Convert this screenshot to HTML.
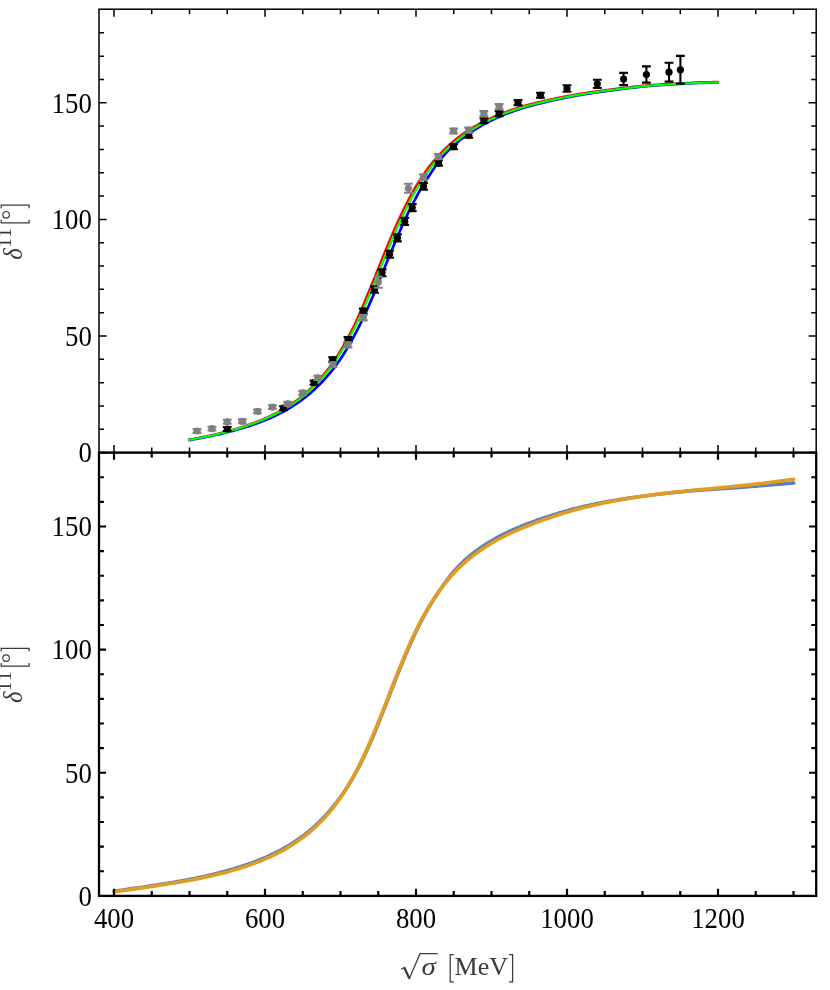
<!DOCTYPE html>
<html><head><meta charset="utf-8"><title>plot</title>
<style>html,body{margin:0;padding:0;background:#fff;}svg{display:block;}</style>
</head><body>
<svg width="830" height="990" viewBox="0 0 830 990">
<rect width="830" height="990" fill="#fff"/>
<!--TOPCURVES-->
<g fill="none" stroke-width="2.25" stroke-linejoin="round" stroke-linecap="butt">
<path stroke="#ff0000" d="M188.17 439.74 L190.05 439.42 L191.94 439.09 L193.83 438.76 L195.71 438.42 L197.60 438.07 L199.49 437.71 L201.37 437.34 L203.26 436.96 L205.14 436.58 L207.03 436.19 L208.91 435.78 L210.80 435.37 L212.68 434.95 L214.57 434.52 L216.45 434.07 L218.34 433.62 L220.22 433.16 L222.11 432.68 L223.99 432.20 L225.88 431.70 L227.76 431.19 L229.65 430.68 L231.53 430.15 L233.41 429.61 L235.30 429.05 L237.18 428.49 L239.06 427.90 L240.95 427.31 L242.83 426.70 L244.71 426.08 L246.60 425.44 L248.48 424.79 L250.36 424.12 L252.24 423.43 L254.13 422.73 L256.01 422.01 L257.89 421.28 L259.77 420.52 L261.65 419.74 L263.53 418.95 L265.40 418.13 L267.28 417.28 L269.16 416.41 L271.04 415.52 L272.91 414.61 L274.79 413.66 L276.66 412.69 L278.54 411.69 L280.41 410.66 L282.28 409.60 L284.16 408.50 L286.03 407.37 L287.90 406.21 L289.77 405.01 L291.64 403.77 L293.51 402.50 L295.38 401.18 L297.25 399.81 L299.12 398.41 L300.98 396.95 L302.85 395.45 L304.71 393.89 L306.57 392.28 L308.44 390.62 L310.30 388.89 L312.16 387.11 L314.01 385.26 L315.87 383.35 L317.73 381.37 L319.59 379.33 L321.44 377.21 L323.30 375.01 L325.15 372.74 L327.01 370.38 L328.86 367.95 L330.72 365.42 L332.58 362.81 L334.43 360.10 L336.29 357.29 L338.15 354.39 L340.01 351.39 L341.87 348.29 L343.74 345.09 L345.60 341.79 L347.47 338.39 L349.33 334.89 L351.19 331.28 L353.05 327.57 L354.90 323.75 L356.73 319.81 L358.55 315.77 L360.35 311.63 L362.16 307.39 L363.97 303.08 L365.80 298.69 L367.65 294.24 L369.52 289.74 L371.40 285.18 L373.27 280.58 L375.15 275.94 L377.03 271.28 L378.91 266.60 L380.79 261.93 L382.67 257.27 L384.55 252.63 L386.44 248.02 L388.33 243.46 L390.21 238.95 L392.10 234.50 L393.99 230.12 L395.89 225.82 L397.78 221.60 L399.68 217.48 L401.57 213.45 L403.47 209.52 L405.37 205.69 L407.27 201.96 L409.17 198.34 L411.07 194.82 L412.97 191.41 L414.88 188.10 L416.79 184.90 L418.69 181.80 L420.60 178.80 L422.51 175.91 L424.42 173.10 L426.33 170.40 L428.24 167.78 L430.16 165.26 L432.09 162.83 L434.04 160.50 L435.98 158.25 L437.93 156.08 L439.87 153.99 L441.81 151.97 L443.75 150.03 L445.67 148.15 L447.59 146.34 L449.51 144.60 L451.43 142.92 L453.35 141.30 L455.27 139.74 L457.18 138.23 L459.10 136.77 L461.01 135.35 L462.92 133.98 L464.83 132.65 L466.74 131.36 L468.66 130.11 L470.57 128.88 L472.48 127.70 L474.39 126.55 L476.31 125.44 L478.22 124.36 L480.14 123.32 L482.05 122.30 L483.96 121.32 L485.87 120.37 L487.79 119.44 L489.70 118.54 L491.61 117.67 L493.52 116.82 L495.43 116.00 L497.34 115.20 L499.25 114.42 L501.15 113.66 L503.06 112.92 L504.96 112.20 L506.87 111.50 L508.77 110.82 L510.67 110.15 L512.57 109.50 L514.47 108.86 L516.37 108.25 L518.27 107.64 L520.17 107.05 L522.07 106.48 L523.97 105.92 L525.86 105.38 L527.76 104.85 L529.65 104.34 L531.55 103.85 L533.44 103.36 L535.34 102.88 L537.23 102.42 L539.13 101.97 L541.02 101.52 L542.91 101.08 L544.80 100.65 L546.69 100.23 L548.58 99.81 L550.48 99.39 L552.37 98.98 L554.26 98.58 L556.15 98.18 L558.04 97.80 L559.94 97.41 L561.83 97.04 L563.72 96.67 L565.61 96.31 L567.51 95.96 L569.40 95.61 L571.29 95.27 L573.18 94.93 L575.07 94.61 L576.96 94.28 L578.85 93.97 L580.74 93.66 L582.64 93.35 L584.53 93.05 L586.42 92.75 L588.31 92.46 L590.20 92.17 L592.09 91.89 L593.98 91.62 L595.87 91.34 L597.76 91.08 L599.65 90.81 L601.54 90.55 L603.43 90.30 L605.32 90.05 L607.21 89.80 L609.10 89.56 L610.99 89.32 L612.88 89.08 L614.77 88.85 L616.66 88.62 L618.55 88.40 L620.44 88.17 L622.33 87.96 L624.22 87.74 L626.11 87.53 L627.99 87.32 L629.88 87.10 L631.77 86.89 L633.66 86.68 L635.55 86.48 L637.44 86.27 L639.33 86.08 L641.22 85.88 L643.11 85.70 L645.00 85.53 L646.89 85.36 L648.79 85.21 L650.68 85.07 L652.57 84.93 L654.45 84.79 L656.34 84.66 L658.23 84.54 L660.12 84.41 L662.01 84.29 L663.90 84.17 L665.79 84.05 L667.68 83.94 L669.57 83.83 L671.45 83.72 L673.34 83.61 L675.23 83.51 L677.12 83.41 L679.01 83.31 L680.90 83.21 L682.79 83.12 L684.68 83.03 L686.56 82.94 L688.45 82.85 L690.34 82.77 L692.23 82.69 L694.12 82.61 L696.01 82.53 L697.90 82.46 L699.78 82.39 L701.67 82.32 L703.56 82.26 L705.45 82.19 L707.34 82.13 L709.23 82.07 L711.11 82.01 L713.00 81.96 L714.89 81.91 L716.78 81.86 L718.67 81.81"/>
<path stroke="#0000ff" stroke-width="2.7" d="M188.24 440.19 L190.13 439.88 L192.02 439.55 L193.91 439.23 L195.80 438.90 L197.69 438.56 L199.58 438.21 L201.47 437.86 L203.37 437.50 L205.26 437.14 L207.15 436.76 L209.04 436.38 L210.94 435.99 L212.83 435.60 L214.72 435.19 L216.62 434.77 L218.51 434.34 L220.41 433.90 L222.30 433.46 L224.20 433.00 L226.10 432.53 L227.99 432.05 L229.89 431.56 L231.79 431.07 L233.69 430.57 L235.59 430.05 L237.50 429.53 L239.40 428.99 L241.31 428.44 L243.21 427.88 L245.12 427.31 L247.03 426.71 L248.94 426.11 L250.85 425.48 L252.76 424.84 L254.67 424.19 L256.58 423.51 L258.49 422.81 L260.40 422.10 L262.31 421.36 L264.23 420.60 L266.14 419.82 L268.06 419.02 L269.98 418.19 L271.90 417.34 L273.82 416.46 L275.74 415.55 L277.66 414.61 L279.58 413.65 L281.50 412.65 L283.43 411.61 L285.35 410.55 L287.28 409.45 L289.21 408.31 L291.13 407.14 L293.06 405.92 L295.00 404.67 L296.93 403.37 L298.86 402.03 L300.80 400.64 L302.73 399.20 L304.67 397.71 L306.61 396.17 L308.56 394.58 L310.50 392.93 L312.45 391.22 L314.40 389.45 L316.35 387.62 L318.31 385.72 L320.27 383.76 L322.24 381.73 L324.21 379.63 L326.18 377.45 L328.15 375.19 L330.12 372.84 L332.10 370.41 L334.07 367.88 L336.04 365.26 L338.01 362.54 L339.97 359.72 L341.92 356.80 L343.87 353.77 L345.81 350.65 L347.75 347.42 L349.68 344.09 L351.62 340.66 L353.55 337.13 L355.48 333.49 L357.41 329.75 L359.35 325.91 L361.28 321.97 L363.21 317.93 L365.14 313.80 L367.06 309.57 L368.98 305.26 L370.90 300.87 L372.80 296.42 L374.70 291.89 L376.60 287.32 L378.50 282.71 L380.39 278.07 L382.29 273.41 L384.18 268.74 L386.07 264.07 L387.96 259.42 L389.85 254.79 L391.73 250.20 L393.62 245.66 L395.50 241.18 L397.38 236.76 L399.26 232.42 L401.14 228.16 L403.02 223.98 L404.89 219.90 L406.76 215.92 L408.62 212.03 L410.48 208.25 L412.33 204.58 L414.18 201.00 L416.03 197.54 L417.87 194.18 L419.71 190.92 L421.54 187.77 L423.37 184.72 L425.20 181.78 L427.03 178.92 L428.85 176.16 L430.63 173.47 L432.39 170.85 L434.13 168.30 L435.86 165.83 L437.59 163.42 L439.32 161.09 L441.05 158.84 L442.80 156.67 L444.58 154.60 L446.37 152.63 L448.19 150.75 L450.01 148.93 L451.84 147.18 L453.67 145.50 L455.51 143.87 L457.35 142.31 L459.19 140.79 L461.03 139.32 L462.88 137.90 L464.73 136.52 L466.58 135.18 L468.44 133.87 L470.29 132.60 L472.15 131.36 L474.00 130.16 L475.86 128.99 L477.72 127.85 L479.57 126.75 L481.43 125.67 L483.29 124.63 L485.15 123.61 L487.02 122.62 L488.88 121.66 L490.74 120.73 L492.61 119.82 L494.47 118.93 L496.34 118.07 L498.21 117.23 L500.08 116.41 L501.95 115.62 L503.82 114.85 L505.69 114.09 L507.56 113.36 L509.44 112.64 L511.31 111.95 L513.19 111.27 L515.06 110.61 L516.94 109.97 L518.82 109.35 L520.70 108.74 L522.57 108.15 L524.45 107.58 L526.33 107.03 L528.21 106.49 L530.09 105.97 L531.97 105.46 L533.86 104.96 L535.74 104.48 L537.62 104.00 L539.50 103.53 L541.39 103.08 L543.27 102.62 L545.15 102.18 L547.04 101.74 L548.92 101.30 L550.80 100.87 L552.69 100.45 L554.57 100.03 L556.45 99.62 L558.34 99.21 L560.22 98.81 L562.11 98.42 L563.99 98.04 L565.87 97.66 L567.76 97.29 L569.64 96.92 L571.53 96.57 L573.41 96.22 L575.29 95.88 L577.18 95.54 L579.06 95.21 L580.95 94.88 L582.83 94.56 L584.72 94.25 L586.61 93.94 L588.49 93.63 L590.38 93.33 L592.26 93.04 L594.15 92.75 L596.03 92.46 L597.92 92.18 L599.80 91.90 L601.69 91.63 L603.58 91.37 L605.46 91.10 L607.35 90.84 L609.23 90.59 L611.12 90.33 L613.01 90.09 L614.89 89.84 L616.78 89.60 L618.67 89.36 L620.55 89.13 L622.44 88.90 L624.32 88.67 L626.21 88.45 L628.10 88.22 L629.99 87.99 L631.87 87.77 L633.76 87.55 L635.64 87.33 L637.53 87.11 L639.42 86.90 L641.30 86.70 L643.19 86.50 L645.08 86.31 L646.96 86.14 L648.85 85.97 L650.73 85.82 L652.62 85.67 L654.51 85.52 L656.39 85.38 L658.28 85.24 L660.17 85.10 L662.06 84.97 L663.94 84.84 L665.83 84.71 L667.72 84.59 L669.60 84.47 L671.49 84.35 L673.38 84.23 L675.27 84.12 L677.15 84.01 L679.04 83.91 L680.93 83.81 L682.82 83.71 L684.70 83.61 L686.59 83.52 L688.48 83.42 L690.37 83.34 L692.25 83.25 L694.14 83.17 L696.03 83.08 L697.92 83.01 L699.80 82.93 L701.69 82.86 L703.58 82.79 L705.47 82.72 L707.35 82.65 L709.24 82.59 L711.13 82.53 L713.02 82.47 L714.91 82.41 L716.79 82.36 L718.68 82.31"/>
<path stroke="#00ff00" d="M188.22 440.04 L190.10 439.72 L191.99 439.39 L193.88 439.06 L195.77 438.72 L197.66 438.37 L199.54 438.01 L201.43 437.64 L203.32 437.27 L205.21 436.89 L207.09 436.50 L208.98 436.10 L210.87 435.69 L212.76 435.28 L214.65 434.85 L216.53 434.41 L218.42 433.96 L220.31 433.50 L222.20 433.03 L224.08 432.55 L225.97 432.06 L227.86 431.56 L229.75 431.04 L231.64 430.52 L233.52 429.99 L235.41 429.44 L237.30 428.87 L239.19 428.30 L241.07 427.71 L242.96 427.10 L244.85 426.49 L246.74 425.85 L248.63 425.21 L250.51 424.54 L252.40 423.86 L254.29 423.17 L256.18 422.46 L258.06 421.73 L259.95 420.98 L261.84 420.21 L263.73 419.42 L265.62 418.61 L267.50 417.77 L269.39 416.92 L271.28 416.03 L273.17 415.12 L275.05 414.19 L276.94 413.23 L278.83 412.24 L280.72 411.21 L282.60 410.16 L284.49 409.08 L286.38 407.96 L288.27 406.80 L290.16 405.61 L292.04 404.38 L293.93 403.11 L295.82 401.80 L297.71 400.44 L299.59 399.04 L301.48 397.60 L303.37 396.10 L305.26 394.55 L307.15 392.94 L309.03 391.29 L310.92 389.57 L312.81 387.79 L314.70 385.95 L316.58 384.04 L318.47 382.07 L320.36 380.03 L322.25 377.91 L324.14 375.72 L326.02 373.45 L327.91 371.10 L329.80 368.66 L331.69 366.13 L333.57 363.52 L335.46 360.80 L337.35 357.99 L339.24 355.09 L341.13 352.08 L343.01 348.97 L344.90 345.77 L346.79 342.46 L348.68 339.05 L350.56 335.54 L352.45 331.93 L354.34 328.21 L356.23 324.39 L358.12 320.47 L360.00 316.44 L361.89 312.32 L363.78 308.11 L365.67 303.82 L367.55 299.44 L369.44 295.00 L371.33 290.49 L373.22 285.93 L375.11 281.32 L376.99 276.69 L378.88 272.03 L380.77 267.36 L382.66 262.69 L384.54 258.03 L386.43 253.40 L388.32 248.80 L390.21 244.24 L392.10 239.74 L393.98 235.30 L395.87 230.94 L397.76 226.65 L399.65 222.45 L401.53 218.34 L403.42 214.33 L405.31 210.42 L407.20 206.61 L409.09 202.90 L410.97 199.30 L412.86 195.80 L414.75 192.41 L416.64 189.13 L418.52 185.95 L420.41 182.88 L422.30 179.90 L424.19 177.03 L426.08 174.25 L427.96 171.56 L429.85 168.97 L431.74 166.47 L433.63 164.05 L435.51 161.71 L437.40 159.46 L439.29 157.28 L441.18 155.18 L443.07 153.16 L444.95 151.22 L446.84 149.35 L448.73 147.56 L450.62 145.82 L452.50 144.15 L454.39 142.54 L456.28 140.99 L458.17 139.48 L460.06 138.03 L461.94 136.62 L463.83 135.26 L465.72 133.93 L467.61 132.64 L469.49 131.38 L471.38 130.16 L473.27 128.97 L475.16 127.82 L477.05 126.70 L478.93 125.61 L480.82 124.56 L482.71 123.53 L484.60 122.54 L486.48 121.57 L488.37 120.63 L490.26 119.72 L492.15 118.83 L494.04 117.96 L495.92 117.12 L497.81 116.30 L499.70 115.50 L501.59 114.72 L503.47 113.97 L505.36 113.23 L507.25 112.52 L509.14 111.82 L511.02 111.14 L512.91 110.48 L514.80 109.83 L516.69 109.20 L518.58 108.59 L520.46 107.99 L522.35 107.41 L524.24 106.85 L526.13 106.31 L528.01 105.78 L529.90 105.26 L531.79 104.76 L533.68 104.27 L535.57 103.79 L537.45 103.32 L539.34 102.87 L541.23 102.41 L543.12 101.97 L545.00 101.54 L546.89 101.10 L548.78 100.68 L550.67 100.26 L552.56 99.84 L554.44 99.43 L556.33 99.03 L558.22 98.64 L560.11 98.25 L561.99 97.87 L563.88 97.49 L565.77 97.13 L567.66 96.77 L569.55 96.41 L571.43 96.06 L573.32 95.72 L575.21 95.39 L577.10 95.06 L578.98 94.74 L580.87 94.42 L582.76 94.11 L584.65 93.80 L586.54 93.50 L588.42 93.20 L590.31 92.91 L592.20 92.62 L594.09 92.34 L595.97 92.06 L597.86 91.79 L599.75 91.52 L601.64 91.26 L603.53 91.00 L605.41 90.74 L607.30 90.49 L609.19 90.24 L611.08 89.99 L612.96 89.75 L614.85 89.52 L616.74 89.28 L618.63 89.05 L620.52 88.82 L622.40 88.60 L624.29 88.38 L626.18 88.16 L628.07 87.95 L629.95 87.73 L631.84 87.51 L633.73 87.29 L635.62 87.08 L637.51 86.87 L639.39 86.67 L641.28 86.47 L643.17 86.29 L645.06 86.11 L646.94 85.94 L648.83 85.78 L650.72 85.63 L652.61 85.49 L654.50 85.35 L656.38 85.21 L658.27 85.08 L660.16 84.95 L662.05 84.82 L663.93 84.70 L665.82 84.58 L667.71 84.46 L669.60 84.34 L671.49 84.23 L673.37 84.12 L675.26 84.01 L677.15 83.91 L679.04 83.81 L680.92 83.71 L682.81 83.61 L684.70 83.52 L686.59 83.43 L688.48 83.34 L690.36 83.25 L692.25 83.17 L694.14 83.09 L696.03 83.01 L697.91 82.93 L699.80 82.86 L701.69 82.79 L703.58 82.72 L705.47 82.66 L707.35 82.59 L709.24 82.53 L711.13 82.47 L713.02 82.42 L714.90 82.36 L716.79 82.31 L718.68 82.26"/>
</g>
<g stroke="#000" fill="#000" stroke-width="2.1">
<path d="M222.8 427.0h8.8M222.8 431.0h8.8M227.2 427.0V431.0"/><circle cx="227.2" cy="429.0" r="3.6" stroke="none"/>
<path d="M279.1 406.2h8.8M279.1 410.2h8.8M283.5 406.2V410.2"/><circle cx="283.5" cy="408.2" r="3.6" stroke="none"/>
<path d="M309.6 380.5h8.8M309.6 384.7h8.8M314.0 380.5V384.7"/><circle cx="314.0" cy="382.6" r="3.6" stroke="none"/>
<path d="M328.2 357.2h8.8M328.2 361.8h8.8M332.6 357.2V361.8"/><circle cx="332.6" cy="359.5" r="3.6" stroke="none"/>
<path d="M343.6 337.1h8.8M343.6 342.1h8.8M348.0 337.1V342.1"/><circle cx="348.0" cy="339.6" r="3.6" stroke="none"/>
<path d="M358.9 308.6h8.8M358.9 313.8h8.8M363.3 308.6V313.8"/><circle cx="363.3" cy="311.2" r="3.6" stroke="none"/>
<path d="M370.1 286.4h8.8M370.1 292.8h8.8M374.5 286.4V292.8"/><circle cx="374.5" cy="289.6" r="3.6" stroke="none"/>
<path d="M377.7 269.4h8.8M377.7 276.2h8.8M382.1 269.4V276.2"/><circle cx="382.1" cy="272.8" r="3.6" stroke="none"/>
<path d="M385.2 250.8h8.8M385.2 257.8h8.8M389.6 250.8V257.8"/><circle cx="389.6" cy="254.3" r="3.6" stroke="none"/>
<path d="M393.0 234.4h8.8M393.0 241.4h8.8M397.4 234.4V241.4"/><circle cx="397.4" cy="237.9" r="3.6" stroke="none"/>
<path d="M400.3 217.9h8.8M400.3 224.9h8.8M404.7 217.9V224.9"/><circle cx="404.7" cy="221.4" r="3.6" stroke="none"/>
<path d="M407.8 204.1h8.8M407.8 211.1h8.8M412.2 204.1V211.1"/><circle cx="412.2" cy="207.6" r="3.6" stroke="none"/>
<path d="M419.1 183.0h8.8M419.1 189.6h8.8M423.5 183.0V189.6"/><circle cx="423.5" cy="186.3" r="3.6" stroke="none"/>
<path d="M434.2 160.2h8.8M434.2 165.8h8.8M438.6 160.2V165.8"/><circle cx="438.6" cy="163.0" r="3.6" stroke="none"/>
<path d="M449.1 144.1h8.8M449.1 149.3h8.8M453.5 144.1V149.3"/><circle cx="453.5" cy="146.7" r="3.6" stroke="none"/>
<path d="M464.4 132.8h8.8M464.4 137.8h8.8M468.8 132.8V137.8"/><circle cx="468.8" cy="135.3" r="3.6" stroke="none"/>
<path d="M479.5 118.3h8.8M479.5 123.3h8.8M483.9 118.3V123.3"/><circle cx="483.9" cy="120.8" r="3.6" stroke="none"/>
<path d="M494.7 111.3h8.8M494.7 116.3h8.8M499.1 111.3V116.3"/><circle cx="499.1" cy="113.8" r="3.6" stroke="none"/>
<path d="M513.6 100.1h8.8M513.6 105.1h8.8M518.0 100.1V105.1"/><circle cx="518.0" cy="102.6" r="3.6" stroke="none"/>
<path d="M536.0 92.8h8.8M536.0 97.8h8.8M540.4 92.8V97.8"/><circle cx="540.4" cy="95.3" r="3.6" stroke="none"/>
<path d="M562.6 85.3h8.8M562.6 91.7h8.8M567.0 85.3V91.7"/><circle cx="567.0" cy="88.5" r="3.6" stroke="none"/>
<path d="M592.9 79.7h8.8M592.9 87.9h8.8M597.3 79.7V87.9"/><circle cx="597.3" cy="83.8" r="3.6" stroke="none"/>
<path d="M619.2 72.9h8.8M619.2 85.1h8.8M623.6 72.9V85.1"/><circle cx="623.6" cy="79.0" r="3.6" stroke="none"/>
<path d="M642.0 66.4h8.8M642.0 82.6h8.8M646.4 66.4V82.6"/><circle cx="646.4" cy="74.5" r="3.6" stroke="none"/>
<path d="M664.6 62.8h8.8M664.6 81.6h8.8M669.0 62.8V81.6"/><circle cx="669.0" cy="72.2" r="3.6" stroke="none"/>
<path d="M676.0 55.9h8.8M676.0 83.7h8.8M680.4 55.9V83.7"/><circle cx="680.4" cy="69.8" r="3.6" stroke="none"/>
</g>
<g stroke="#808080" fill="#808080" stroke-width="2.1">
<path d="M192.6 429.1h8.8M192.6 432.9h8.8M197.0 429.1V432.9"/><circle cx="197.0" cy="431.0" r="3.6" stroke="none"/>
<path d="M207.5 426.7h8.8M207.5 430.5h8.8M211.9 426.7V430.5"/><circle cx="211.9" cy="428.6" r="3.6" stroke="none"/>
<path d="M222.8 419.8h8.8M222.8 423.8h8.8M227.2 419.8V423.8"/><circle cx="227.2" cy="421.8" r="3.6" stroke="none"/>
<path d="M237.9 419.4h8.8M237.9 423.2h8.8M242.3 419.4V423.2"/><circle cx="242.3" cy="421.3" r="3.6" stroke="none"/>
<path d="M253.0 409.5h8.8M253.0 413.3h8.8M257.4 409.5V413.3"/><circle cx="257.4" cy="411.4" r="3.6" stroke="none"/>
<path d="M268.0 405.2h8.8M268.0 409.0h8.8M272.4 405.2V409.0"/><circle cx="272.4" cy="407.1" r="3.6" stroke="none"/>
<path d="M283.3 401.9h8.8M283.3 405.7h8.8M287.7 401.9V405.7"/><circle cx="287.7" cy="403.8" r="3.6" stroke="none"/>
<path d="M298.3 390.9h8.8M298.3 394.9h8.8M302.7 390.9V394.9"/><circle cx="302.7" cy="392.9" r="3.6" stroke="none"/>
<path d="M313.4 375.7h8.8M313.4 379.9h8.8M317.8 375.7V379.9"/><circle cx="317.8" cy="377.8" r="3.6" stroke="none"/>
<path d="M328.5 362.4h8.8M328.5 367.0h8.8M332.9 362.4V367.0"/><circle cx="332.9" cy="364.7" r="3.6" stroke="none"/>
<path d="M343.6 342.4h8.8M343.6 347.4h8.8M348.0 342.4V347.4"/><circle cx="348.0" cy="344.9" r="3.6" stroke="none"/>
<path d="M358.9 314.8h8.8M358.9 320.4h8.8M363.3 314.8V320.4"/><circle cx="363.3" cy="317.6" r="3.6" stroke="none"/>
<path d="M373.9 276.6h8.8M373.9 287.8h8.8M378.3 276.6V287.8"/><circle cx="378.3" cy="282.2" r="3.6" stroke="none"/>
<path d="M404.0 183.8h8.8M404.0 192.8h8.8M408.4 183.8V192.8"/><circle cx="408.4" cy="188.3" r="3.6" stroke="none"/>
<path d="M419.1 174.4h8.8M419.1 179.8h8.8M423.5 174.4V179.8"/><circle cx="423.5" cy="177.1" r="3.6" stroke="none"/>
<path d="M434.1 154.1h8.8M434.1 159.1h8.8M438.5 154.1V159.1"/><circle cx="438.5" cy="156.6" r="3.6" stroke="none"/>
<path d="M449.2 128.5h8.8M449.2 133.5h8.8M453.6 128.5V133.5"/><circle cx="453.6" cy="131.0" r="3.6" stroke="none"/>
<path d="M464.3 127.6h8.8M464.3 132.6h8.8M468.7 127.6V132.6"/><circle cx="468.7" cy="130.1" r="3.6" stroke="none"/>
<path d="M479.5 111.1h8.8M479.5 116.1h8.8M483.9 111.1V116.1"/><circle cx="483.9" cy="113.6" r="3.6" stroke="none"/>
<path d="M494.7 104.1h8.8M494.7 109.1h8.8M499.1 104.1V109.1"/><circle cx="499.1" cy="106.6" r="3.6" stroke="none"/>
</g>
<!--/TOPCURVES-->
<!--BOTCURVES-->
<g fill="none" stroke-width="3.6" stroke-linejoin="round" stroke-linecap="round">
<path stroke="#5e81b5" d="M114.04 891.18 L115.92 890.93 L117.80 890.68 L119.69 890.43 L121.57 890.17 L123.45 889.92 L125.33 889.66 L127.22 889.40 L129.10 889.13 L130.98 888.87 L132.86 888.60 L134.74 888.33 L136.63 888.06 L138.51 887.79 L140.39 887.51 L142.27 887.23 L144.15 886.95 L146.04 886.67 L147.92 886.38 L149.80 886.09 L151.68 885.79 L153.56 885.50 L155.44 885.20 L157.33 884.89 L159.21 884.59 L161.09 884.29 L162.97 884.00 L164.85 883.71 L166.73 883.41 L168.61 883.11 L170.50 882.81 L172.38 882.50 L174.26 882.19 L176.14 881.87 L178.02 881.54 L179.90 881.22 L181.78 880.88 L183.66 880.55 L185.54 880.20 L187.42 879.85 L189.30 879.50 L191.18 879.14 L193.06 878.77 L194.94 878.39 L196.82 878.01 L198.70 877.62 L200.58 877.23 L202.46 876.82 L204.34 876.41 L206.22 875.99 L208.09 875.55 L209.97 875.11 L211.85 874.66 L213.72 874.21 L215.60 873.74 L217.47 873.26 L219.35 872.78 L221.23 872.29 L223.10 871.79 L224.98 871.29 L226.86 870.77 L228.73 870.25 L230.61 869.72 L232.49 869.18 L234.37 868.63 L236.25 868.06 L238.13 867.49 L240.00 866.90 L241.88 866.30 L243.76 865.68 L245.64 865.05 L247.52 864.41 L249.39 863.75 L251.27 863.08 L253.15 862.39 L255.03 861.69 L256.91 860.96 L258.79 860.22 L260.67 859.47 L262.54 858.69 L264.42 857.89 L266.30 857.08 L268.18 856.24 L270.06 855.38 L271.94 854.50 L273.82 853.60 L275.70 852.67 L277.58 851.72 L279.47 850.74 L281.35 849.74 L283.23 848.70 L285.12 847.64 L287.00 846.55 L288.88 845.43 L290.77 844.27 L292.66 843.07 L294.54 841.85 L296.43 840.58 L298.32 839.28 L300.20 837.93 L302.10 836.55 L303.99 835.12 L305.88 833.65 L307.78 832.13 L309.68 830.56 L311.58 828.95 L313.49 827.28 L315.40 825.56 L317.31 823.78 L319.22 821.94 L321.14 820.03 L323.05 818.07 L324.97 816.03 L326.89 813.92 L328.82 811.74 L330.74 809.49 L332.68 807.16 L334.64 804.76 L336.59 802.28 L338.56 799.71 L340.52 797.05 L342.49 794.29 L344.44 791.44 L346.39 788.48 L348.33 785.41 L350.27 782.24 L352.20 778.97 L354.14 775.59 L356.07 772.11 L358.00 768.52 L359.93 764.82 L361.85 761.01 L363.76 757.10 L365.66 753.09 L367.56 748.98 L369.44 744.76 L371.31 740.45 L373.18 736.06 L375.05 731.59 L376.91 727.05 L378.78 722.44 L380.64 717.78 L382.50 713.07 L384.36 708.32 L386.22 703.55 L388.08 698.76 L389.94 693.96 L391.80 689.17 L393.66 684.40 L395.52 679.65 L397.38 674.94 L399.24 670.27 L401.11 665.66 L402.97 661.12 L404.83 656.64 L406.70 652.24 L408.56 647.92 L410.43 643.69 L412.29 639.55 L414.16 635.51 L416.02 631.57 L417.89 627.73 L419.76 624.00 L421.63 620.36 L423.50 616.83 L425.37 613.40 L427.25 610.08 L429.12 606.86 L431.00 603.73 L432.87 600.70 L434.74 597.76 L436.60 594.91 L438.46 592.15 L440.31 589.47 L442.15 586.86 L443.95 584.30 L445.73 581.81 L447.50 579.37 L449.28 577.01 L451.07 574.73 L452.88 572.53 L454.73 570.42 L456.59 568.39 L458.45 566.42 L460.32 564.52 L462.20 562.68 L464.09 560.90 L465.98 559.19 L467.88 557.53 L469.79 555.93 L471.71 554.39 L473.62 552.89 L475.53 551.43 L477.44 550.02 L479.35 548.65 L481.26 547.31 L483.17 546.02 L485.08 544.76 L487.00 543.54 L488.91 542.36 L490.82 541.20 L492.73 540.08 L494.64 538.99 L496.55 537.92 L498.46 536.89 L500.37 535.88 L502.27 534.90 L504.18 533.95 L506.09 533.02 L508.00 532.11 L509.90 531.22 L511.81 530.35 L513.71 529.50 L515.61 528.67 L517.51 527.86 L519.41 527.06 L521.31 526.28 L523.21 525.51 L525.10 524.76 L526.99 524.01 L528.89 523.28 L530.78 522.56 L532.67 521.86 L534.56 521.16 L536.44 520.48 L538.33 519.81 L540.22 519.15 L542.10 518.49 L543.99 517.85 L545.88 517.22 L547.76 516.60 L549.65 515.99 L551.53 515.39 L553.42 514.79 L555.30 514.21 L557.18 513.63 L559.07 513.06 L560.95 512.51 L562.84 511.96 L564.72 511.42 L566.61 510.89 L568.49 510.36 L570.38 509.85 L572.27 509.35 L574.15 508.86 L576.04 508.37 L577.93 507.90 L579.82 507.43 L581.71 506.98 L583.60 506.53 L585.49 506.09 L587.38 505.66 L589.27 505.24 L591.16 504.83 L593.06 504.42 L594.95 504.02 L596.84 503.63 L598.74 503.25 L600.63 502.88 L602.52 502.51 L604.42 502.15 L606.31 501.80 L608.21 501.46 L610.10 501.12 L612.00 500.79 L613.90 500.47 L615.79 500.15 L617.69 499.84 L619.59 499.54 L621.48 499.24 L623.38 498.95 L625.28 498.66 L627.17 498.38 L629.07 498.10 L630.97 497.83 L632.86 497.56 L634.76 497.29 L636.66 497.03 L638.55 496.77 L640.45 496.51 L642.35 496.26 L644.24 496.01 L646.14 495.76 L648.03 495.51 L649.93 495.27 L651.82 495.03 L653.72 494.79 L655.61 494.56 L657.51 494.33 L659.40 494.10 L661.30 493.88 L663.19 493.66 L665.09 493.44 L666.98 493.23 L668.88 493.02 L670.77 492.82 L672.67 492.62 L674.56 492.42 L676.46 492.23 L678.35 492.04 L680.25 491.85 L682.14 491.67 L684.04 491.49 L685.94 491.32 L687.83 491.15 L689.73 490.98 L691.62 490.82 L693.52 490.66 L695.42 490.51 L697.32 490.36 L699.21 490.22 L701.11 490.08 L703.01 489.95 L704.90 489.81 L706.80 489.68 L708.70 489.56 L710.60 489.43 L712.49 489.30 L714.39 489.18 L716.29 489.05 L718.18 488.93 L720.08 488.80 L721.97 488.67 L723.87 488.55 L725.76 488.42 L727.66 488.28 L729.55 488.15 L731.45 488.01 L733.34 487.88 L735.23 487.74 L737.12 487.60 L739.02 487.46 L740.91 487.31 L742.80 487.17 L744.69 487.02 L746.58 486.88 L748.47 486.73 L750.36 486.58 L752.25 486.43 L754.14 486.28 L756.03 486.12 L757.92 485.97 L759.81 485.81 L761.70 485.66 L763.59 485.50 L765.47 485.35 L767.36 485.19 L769.25 485.03 L771.14 484.87 L773.03 484.72 L774.92 484.56 L776.80 484.40 L778.69 484.25 L780.58 484.09 L782.47 483.93 L784.35 483.77 L786.24 483.61 L788.13 483.45 L790.01 483.28 L791.90 483.12 L793.79 482.95"/>
<path stroke="#e19c24" d="M114.08 891.68 L115.96 891.44 L117.85 891.19 L119.73 890.95 L121.62 890.70 L123.50 890.45 L125.39 890.20 L127.27 889.95 L129.15 889.69 L131.04 889.44 L132.92 889.18 L134.81 888.92 L136.69 888.65 L138.57 888.39 L140.46 888.12 L142.34 887.85 L144.23 887.57 L146.11 887.30 L147.99 887.02 L149.88 886.74 L151.76 886.45 L153.65 886.16 L155.53 885.87 L157.42 885.58 L159.30 885.28 L161.18 884.99 L163.07 884.71 L164.95 884.43 L166.84 884.14 L168.72 883.84 L170.60 883.55 L172.49 883.25 L174.37 882.94 L176.26 882.63 L178.14 882.32 L180.03 882.00 L181.91 881.67 L183.80 881.34 L185.68 881.01 L187.57 880.67 L189.45 880.32 L191.34 879.97 L193.22 879.61 L195.11 879.25 L196.99 878.88 L198.88 878.50 L200.76 878.12 L202.65 877.73 L204.53 877.33 L206.42 876.92 L208.30 876.51 L210.19 876.09 L212.08 875.66 L213.96 875.23 L215.85 874.78 L217.73 874.33 L219.62 873.86 L221.51 873.39 L223.39 872.91 L225.28 872.42 L227.17 871.92 L229.05 871.40 L230.94 870.88 L232.83 870.34 L234.72 869.80 L236.60 869.24 L238.49 868.67 L240.38 868.08 L242.27 867.48 L244.16 866.87 L246.04 866.25 L247.93 865.60 L249.82 864.95 L251.71 864.28 L253.60 863.59 L255.49 862.88 L257.38 862.16 L259.27 861.42 L261.16 860.66 L263.05 859.88 L264.94 859.08 L266.83 858.27 L268.72 857.42 L270.61 856.56 L272.51 855.67 L274.40 854.76 L276.29 853.83 L278.18 852.86 L280.08 851.88 L281.97 850.86 L283.86 849.81 L285.76 848.74 L287.65 847.63 L289.54 846.49 L291.44 845.32 L293.33 844.11 L295.23 842.86 L297.12 841.58 L299.02 840.26 L300.91 838.89 L302.81 837.49 L304.71 836.03 L306.60 834.54 L308.50 832.99 L310.40 831.39 L312.29 829.75 L314.19 828.04 L316.09 826.29 L317.99 824.47 L319.88 822.59 L321.78 820.65 L323.68 818.64 L325.58 816.57 L327.47 814.42 L329.37 812.20 L331.27 809.91 L333.16 807.53 L335.06 805.08 L336.95 802.54 L338.85 799.91 L340.74 797.20 L342.63 794.39 L344.52 791.49 L346.41 788.49 L348.30 785.39 L350.19 782.20 L352.08 778.90 L353.96 775.49 L355.85 771.99 L357.73 768.37 L359.61 764.66 L361.49 760.84 L363.36 756.92 L365.24 752.89 L367.11 748.77 L368.98 744.56 L370.85 740.25 L372.72 735.87 L374.59 731.40 L376.45 726.86 L378.31 722.25 L380.17 717.59 L382.03 712.88 L383.89 708.14 L385.75 703.37 L387.61 698.58 L389.47 693.78 L391.33 688.99 L393.19 684.22 L395.05 679.47 L396.92 674.75 L398.78 670.09 L400.65 665.47 L402.51 660.92 L404.38 656.44 L406.25 652.04 L408.12 647.72 L410.00 643.50 L411.87 639.36 L413.75 635.32 L415.63 631.38 L417.51 627.54 L419.40 623.81 L421.28 620.18 L423.17 616.65 L425.06 613.23 L426.96 609.91 L428.86 606.70 L430.76 603.58 L432.66 600.57 L434.56 597.65 L436.47 594.83 L438.38 592.10 L440.29 589.46 L442.21 586.90 L444.12 584.44 L446.04 582.05 L447.96 579.75 L449.87 577.52 L451.79 575.36 L453.71 573.28 L455.63 571.27 L457.55 569.32 L459.46 567.43 L461.38 565.61 L463.30 563.85 L465.21 562.14 L467.13 560.48 L469.04 558.88 L470.95 557.33 L472.86 555.82 L474.77 554.36 L476.68 552.95 L478.59 551.57 L480.49 550.24 L482.39 548.94 L484.30 547.68 L486.20 546.45 L488.10 545.26 L489.99 544.10 L491.89 542.97 L493.79 541.87 L495.68 540.80 L497.57 539.75 L499.46 538.73 L501.35 537.74 L503.24 536.76 L505.13 535.81 L507.02 534.88 L508.90 533.98 L510.78 533.09 L512.67 532.21 L514.55 531.36 L516.43 530.52 L518.31 529.70 L520.19 528.90 L522.06 528.10 L523.94 527.33 L525.81 526.56 L527.69 525.81 L529.56 525.07 L531.43 524.34 L533.31 523.62 L535.18 522.91 L537.05 522.21 L538.92 521.52 L540.79 520.84 L542.65 520.16 L544.52 519.50 L546.39 518.85 L548.26 518.20 L550.13 517.57 L552.00 516.94 L553.87 516.32 L555.74 515.71 L557.60 515.11 L559.47 514.52 L561.35 513.93 L563.22 513.36 L565.09 512.79 L566.96 512.23 L568.83 511.68 L570.71 511.14 L572.58 510.61 L574.45 510.08 L576.33 509.57 L578.21 509.06 L580.08 508.56 L581.96 508.07 L583.84 507.59 L585.72 507.12 L587.60 506.66 L589.48 506.20 L591.36 505.76 L593.25 505.32 L595.13 504.89 L597.01 504.47 L598.90 504.05 L600.78 503.64 L602.67 503.24 L604.55 502.85 L606.44 502.46 L608.33 502.08 L610.22 501.71 L612.10 501.35 L613.99 500.99 L615.88 500.63 L617.77 500.29 L619.66 499.94 L621.55 499.61 L623.44 499.28 L625.33 498.96 L627.22 498.64 L629.11 498.33 L631.00 498.02 L632.89 497.72 L634.78 497.42 L636.67 497.13 L638.57 496.84 L640.46 496.56 L642.35 496.28 L644.24 496.01 L646.13 495.75 L648.03 495.48 L649.92 495.22 L651.81 494.97 L653.71 494.72 L655.60 494.48 L657.49 494.23 L659.39 494.00 L661.28 493.76 L663.17 493.53 L665.07 493.31 L666.96 493.09 L668.86 492.87 L670.75 492.66 L672.64 492.44 L674.54 492.24 L676.43 492.03 L678.33 491.83 L680.22 491.63 L682.11 491.44 L684.01 491.24 L685.90 491.05 L687.80 490.86 L689.69 490.67 L691.58 490.49 L693.48 490.31 L695.37 490.12 L697.26 489.94 L699.16 489.76 L701.05 489.58 L702.94 489.40 L704.84 489.23 L706.73 489.05 L708.62 488.87 L710.51 488.69 L712.40 488.52 L714.30 488.34 L716.19 488.16 L718.08 487.98 L719.97 487.80 L721.86 487.63 L723.75 487.44 L725.64 487.26 L727.53 487.08 L729.42 486.89 L731.31 486.71 L733.19 486.52 L735.08 486.33 L736.97 486.14 L738.86 485.94 L740.74 485.75 L742.63 485.55 L744.52 485.35 L746.40 485.14 L748.29 484.94 L750.17 484.73 L752.06 484.52 L753.94 484.31 L755.83 484.10 L757.71 483.88 L759.60 483.66 L761.48 483.44 L763.36 483.21 L765.25 482.99 L767.13 482.76 L769.01 482.53 L770.89 482.29 L772.77 482.05 L774.66 481.81 L776.54 481.57 L778.42 481.32 L780.30 481.07 L782.18 480.82 L784.06 480.57 L785.94 480.31 L787.82 480.05 L789.70 479.79 L791.58 479.52 L793.46 479.25"/>
</g>
<!--/BOTCURVES-->
<g stroke="#000" stroke-width="1.5" fill="none" stroke-linecap="butt">
<rect x="99.0" y="9.2" width="717.2" height="443.40000000000003"/>
<path d="M114.00 9.2 v7.6 M114.00 452.6 v-7.6"/>
<path d="M151.75 9.2 v5.0 M151.75 452.6 v-5.0"/>
<path d="M189.50 9.2 v5.0 M189.50 452.6 v-5.0"/>
<path d="M227.25 9.2 v5.0 M227.25 452.6 v-5.0"/>
<path d="M265.00 9.2 v7.6 M265.00 452.6 v-7.6"/>
<path d="M302.75 9.2 v5.0 M302.75 452.6 v-5.0"/>
<path d="M340.50 9.2 v5.0 M340.50 452.6 v-5.0"/>
<path d="M378.25 9.2 v5.0 M378.25 452.6 v-5.0"/>
<path d="M416.00 9.2 v7.6 M416.00 452.6 v-7.6"/>
<path d="M453.75 9.2 v5.0 M453.75 452.6 v-5.0"/>
<path d="M491.50 9.2 v5.0 M491.50 452.6 v-5.0"/>
<path d="M529.25 9.2 v5.0 M529.25 452.6 v-5.0"/>
<path d="M567.00 9.2 v7.6 M567.00 452.6 v-7.6"/>
<path d="M604.75 9.2 v5.0 M604.75 452.6 v-5.0"/>
<path d="M642.50 9.2 v5.0 M642.50 452.6 v-5.0"/>
<path d="M680.25 9.2 v5.0 M680.25 452.6 v-5.0"/>
<path d="M718.00 9.2 v7.6 M718.00 452.6 v-7.6"/>
<path d="M755.75 9.2 v5.0 M755.75 452.6 v-5.0"/>
<path d="M793.50 9.2 v5.0 M793.50 452.6 v-5.0"/>
<path d="M99.0 452.60 h7.6 M816.2 452.60 h-7.6"/>
<path d="M99.0 429.28 h5.0 M816.2 429.28 h-5.0"/>
<path d="M99.0 405.96 h5.0 M816.2 405.96 h-5.0"/>
<path d="M99.0 382.64 h5.0 M816.2 382.64 h-5.0"/>
<path d="M99.0 359.32 h5.0 M816.2 359.32 h-5.0"/>
<path d="M99.0 336.00 h7.6 M816.2 336.00 h-7.6"/>
<path d="M99.0 312.68 h5.0 M816.2 312.68 h-5.0"/>
<path d="M99.0 289.36 h5.0 M816.2 289.36 h-5.0"/>
<path d="M99.0 266.04 h5.0 M816.2 266.04 h-5.0"/>
<path d="M99.0 242.72 h5.0 M816.2 242.72 h-5.0"/>
<path d="M99.0 219.40 h7.6 M816.2 219.40 h-7.6"/>
<path d="M99.0 196.08 h5.0 M816.2 196.08 h-5.0"/>
<path d="M99.0 172.76 h5.0 M816.2 172.76 h-5.0"/>
<path d="M99.0 149.44 h5.0 M816.2 149.44 h-5.0"/>
<path d="M99.0 126.12 h5.0 M816.2 126.12 h-5.0"/>
<path d="M99.0 102.80 h7.6 M816.2 102.80 h-7.6"/>
<path d="M99.0 79.48 h5.0 M816.2 79.48 h-5.0"/>
<path d="M99.0 56.16 h5.0 M816.2 56.16 h-5.0"/>
<path d="M99.0 32.84 h5.0 M816.2 32.84 h-5.0"/>
</g>
<g stroke="#000" stroke-width="2.3" fill="none">
<rect x="99.0" y="452.6" width="717.2" height="443.29999999999995"/>
</g>
<g stroke="#000" stroke-width="2.2" fill="none">
<path d="M114.00 452.6 v7.1 M114.00 895.9 v-7.1"/>
<path d="M151.75 452.6 v4.9 M151.75 895.9 v-4.9"/>
<path d="M189.50 452.6 v4.9 M189.50 895.9 v-4.9"/>
<path d="M227.25 452.6 v4.9 M227.25 895.9 v-4.9"/>
<path d="M265.00 452.6 v7.1 M265.00 895.9 v-7.1"/>
<path d="M302.75 452.6 v4.9 M302.75 895.9 v-4.9"/>
<path d="M340.50 452.6 v4.9 M340.50 895.9 v-4.9"/>
<path d="M378.25 452.6 v4.9 M378.25 895.9 v-4.9"/>
<path d="M416.00 452.6 v7.1 M416.00 895.9 v-7.1"/>
<path d="M453.75 452.6 v4.9 M453.75 895.9 v-4.9"/>
<path d="M491.50 452.6 v4.9 M491.50 895.9 v-4.9"/>
<path d="M529.25 452.6 v4.9 M529.25 895.9 v-4.9"/>
<path d="M567.00 452.6 v7.1 M567.00 895.9 v-7.1"/>
<path d="M604.75 452.6 v4.9 M604.75 895.9 v-4.9"/>
<path d="M642.50 452.6 v4.9 M642.50 895.9 v-4.9"/>
<path d="M680.25 452.6 v4.9 M680.25 895.9 v-4.9"/>
<path d="M718.00 452.6 v7.1 M718.00 895.9 v-7.1"/>
<path d="M755.75 452.6 v4.9 M755.75 895.9 v-4.9"/>
<path d="M793.50 452.6 v4.9 M793.50 895.9 v-4.9"/>
<path d="M99.0 871.27 h4.9 M816.2 871.27 h-4.9"/>
<path d="M99.0 846.64 h4.9 M816.2 846.64 h-4.9"/>
<path d="M99.0 822.02 h4.9 M816.2 822.02 h-4.9"/>
<path d="M99.0 797.39 h4.9 M816.2 797.39 h-4.9"/>
<path d="M99.0 772.76 h7.1 M816.2 772.76 h-7.1"/>
<path d="M99.0 748.13 h4.9 M816.2 748.13 h-4.9"/>
<path d="M99.0 723.51 h4.9 M816.2 723.51 h-4.9"/>
<path d="M99.0 698.88 h4.9 M816.2 698.88 h-4.9"/>
<path d="M99.0 674.25 h4.9 M816.2 674.25 h-4.9"/>
<path d="M99.0 649.62 h7.1 M816.2 649.62 h-7.1"/>
<path d="M99.0 624.99 h4.9 M816.2 624.99 h-4.9"/>
<path d="M99.0 600.37 h4.9 M816.2 600.37 h-4.9"/>
<path d="M99.0 575.74 h4.9 M816.2 575.74 h-4.9"/>
<path d="M99.0 551.11 h4.9 M816.2 551.11 h-4.9"/>
<path d="M99.0 526.48 h7.1 M816.2 526.48 h-7.1"/>
<path d="M99.0 501.86 h4.9 M816.2 501.86 h-4.9"/>
<path d="M99.0 477.23 h4.9 M816.2 477.23 h-4.9"/>
</g>
<g font-family="Liberation Serif, serif" font-size="27.5" fill="#000" style="filter:grayscale(1)">
<text transform="translate(91.8,462.35) scale(0.975,1.055)" text-anchor="end">0</text>
<text transform="translate(91.8,905.65) scale(0.975,1.055)" text-anchor="end">0</text>
<text transform="translate(91.8,345.75) scale(0.975,1.055)" text-anchor="end">50</text>
<text transform="translate(91.8,782.51) scale(0.975,1.055)" text-anchor="end">50</text>
<text transform="translate(91.8,229.15) scale(0.975,1.055)" text-anchor="end">100</text>
<text transform="translate(91.8,659.37) scale(0.975,1.055)" text-anchor="end">100</text>
<text transform="translate(91.8,112.55) scale(0.975,1.055)" text-anchor="end">150</text>
<text transform="translate(91.8,536.23) scale(0.975,1.055)" text-anchor="end">150</text>
<text transform="translate(114.00,928.1) scale(0.975,1.055)" text-anchor="middle">400</text>
<text transform="translate(265.00,928.1) scale(0.975,1.055)" text-anchor="middle">600</text>
<text transform="translate(416.00,928.1) scale(0.975,1.055)" text-anchor="middle">800</text>
<text transform="translate(567.00,928.1) scale(0.975,1.055)" text-anchor="middle">1000</text>
<text transform="translate(718.00,928.1) scale(0.975,1.055)" text-anchor="middle">1200</text>
</g>
<!--LABELS-->
<g transform="translate(22.6,259.2) rotate(-90)" fill="#3a3a3a" stroke="none" style="filter:grayscale(1)">
<text transform="translate(-0.5,0) scale(0.88,1)" x="0" y="-0.5" font-family="Liberation Serif, serif" font-style="italic" font-size="28">δ</text>
<text x="11.6" y="-11.9" font-family="Liberation Serif, serif" font-size="18.5" letter-spacing="1.5">11</text>
<path d="M39.4 -21.4H36.3V6.5H39.4 M51.0 -21.4H54.1V6.5H51.0" fill="none" stroke="#3a3a3a" stroke-width="1.25"/>
<circle cx="44.4" cy="-16.5" r="3.3" fill="none" stroke="#3a3a3a" stroke-width="1.15"/>
</g>
<g transform="translate(22.6,702.5) rotate(-90)" fill="#3a3a3a" stroke="none" style="filter:grayscale(1)">
<text transform="translate(-0.5,0) scale(0.88,1)" x="0" y="-0.5" font-family="Liberation Serif, serif" font-style="italic" font-size="28">δ</text>
<text x="11.6" y="-11.9" font-family="Liberation Serif, serif" font-size="18.5" letter-spacing="1.5">11</text>
<path d="M39.4 -21.4H36.3V6.5H39.4 M51.0 -21.4H54.1V6.5H51.0" fill="none" stroke="#3a3a3a" stroke-width="1.25"/>
<circle cx="44.4" cy="-16.5" r="3.3" fill="none" stroke="#3a3a3a" stroke-width="1.15"/>
</g>
<g fill="#3a3a3a" style="filter:grayscale(1)">
<path d="M401.2 969.3 L404.6 967.4 L409.5 978.2 L420.0 953.7 H437.8" fill="none" stroke="#3a3a3a" stroke-width="1.25" stroke-linejoin="miter"/>
<path d="M404.3 967.6 L409.3 978.6" fill="none" stroke="#3a3a3a" stroke-width="2.2"/>
<text transform="translate(421.4,974.6) scale(1.16,1)" x="0" y="0" font-family="Liberation Serif, serif" font-style="italic" font-size="25">σ</text>
<path d="M453.8 954.6H450.2V981.8H453.8 M509.0 954.6H512.6V981.8H509.0" fill="none" stroke="#3a3a3a" stroke-width="1.25"/>
<text x="454.6" y="974.9" font-family="Liberation Serif, serif" font-size="26">MeV</text>
</g>
<!--/LABELS-->
</svg>
</body></html>
